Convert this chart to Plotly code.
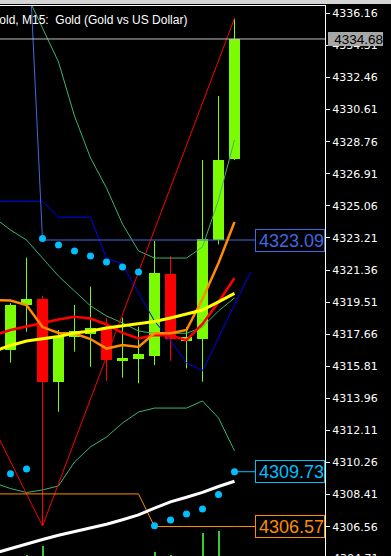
import plotly.graph_objects as go

# ---------------- data ----------------
candle_idx = list(range(15))
opens  = [4316.75, 4319.35, 4319.69, 4314.92, 4317.51, 4317.65, 4318.02, 4316.13, 4316.23, 4316.42, 4321.13, 4317.28, 4317.40, 4323.09, 4327.74]
highs  = [4319.45, 4322.07, 4319.86, 4317.90, 4319.35, 4320.40, 4318.61, 4318.61, 4318.09, 4323.03, 4322.17, 4318.06, 4327.70, 4331.39, 4335.87]
lows   = [4316.02, 4317.80, 4306.60, 4313.19, 4316.65, 4315.78, 4314.96, 4315.15, 4314.83, 4315.88, 4316.13, 4315.69, 4314.92, 4322.84, 4327.70]
closes = [4319.35, 4319.69, 4314.92, 4317.57, 4317.84, 4318.02, 4316.17, 4316.29, 4316.52, 4321.17, 4317.37, 4317.51, 4323.13, 4327.70, 4334.68]

ma_idx = list(range(-1, 15))
bb_upper  = [4341.00, 4339.23, 4337.27, 4335.26, 4333.35, 4330.24, 4327.82, 4326.09, 4324.01, 4322.46, 4322.05, 4322.05, 4322.05, 4322.69, 4325.40, 4328.86]
bb_middle = [4324.36, 4323.67, 4323.09, 4322.05, 4321.01, 4320.15, 4319.29, 4318.71, 4318.31, 4317.84, 4317.71, 4317.71, 4317.71, 4318.07, 4319.00, 4319.75]
bb_lower  = [4309.08, 4308.76, 4308.53, 4308.68, 4308.91, 4310.29, 4311.16, 4311.73, 4312.54, 4313.17, 4313.40, 4313.40, 4313.40, 4313.81, 4312.83, 4310.93]
ma_yellow = [4316.69, 4317.01, 4317.27, 4317.38, 4317.53, 4317.73, 4317.84, 4318.02, 4318.13, 4318.25, 4318.39, 4318.59, 4318.80, 4319.05, 4319.52, 4320.01]
ma_white  = [4305.03, 4305.30, 4305.58, 4305.82, 4306.07, 4306.28, 4306.49, 4306.70, 4306.96, 4307.24, 4307.63, 4307.99, 4308.26, 4308.54, 4308.88, 4309.18]
ma_orange = [4319.63, 4319.60, 4319.34, 4318.07, 4317.73, 4317.70, 4317.38, 4316.83, 4317.04, 4316.92, 4317.71, 4317.71, 4317.90, 4319.69, 4321.76, 4324.13]
ma_red    = [4317.61, 4317.90, 4318.10, 4318.31, 4318.51, 4318.67, 4318.56, 4318.22, 4317.73, 4317.41, 4317.61, 4317.58, 4317.32, 4318.25, 4319.52, 4320.90]

blue_idx = list(range(-1, 16))
blue_line = [4325.32, 4325.32, 4325.32, 4325.32, 4324.40, 4324.40, 4324.40, 4322.03, 4321.71, 4320.03, 4318.42, 4317.30, 4316.00, 4315.55, 4317.44, 4319.34, 4321.25]

psar = [4309.62, 4309.89, 4323.17, 4322.80, 4322.46, 4322.17, 4321.82, 4321.53, 4321.25, 4306.62, 4306.95, 4307.29, 4307.58, 4308.41, 4309.73]

zigzag_idx = [-1, 2, 14]
zigzag_val = [4312.17, 4306.60, 4335.87]

stop_up_idx = list(range(1, 15))
stop_up_val = [4342.67] + [4323.09] * 13
stop_dn_idx = list(range(-1, 15))
stop_dn_val = [4308.45] * 10 + [4306.57] * 6

hist_idx = [1, 2, 9, 10, 12, 13]
hist_val = [4304.93, 4305.45, 4305.10, 4304.93, 4306.20, 4306.31]
hist_base = 4304.0

current_price = 4334.68
tick_vals = [4336.16, 4334.31, 4332.46, 4330.61, 4328.76, 4326.91, 4325.06, 4323.21, 4321.36,
             4319.51, 4317.66, 4315.81, 4313.96, 4312.11, 4310.26, 4308.41, 4306.56]
hidden_tick = 4304.71
title_text = "Gold, M15:\u00a0 Gold (Gold vs US Dollar)"

# ---------------- layout constants (pixels) ----------------
W, H = 391, 556
PLOT_RIGHT = 325
PLOT_TOP = 6
X0_PX = 10.5
STEP_PX = 16
Y_TOP_VAL = 4336.581
Y_BOT_VAL = 4304.871
LABEL_LEFT_PX = 255

def px_to_k(px):
    return (px - X0_PX) / STEP_PX

LABEL_K = px_to_k(LABEL_LEFT_PX)

BULL = "#7CFC00"
BEAR = "#FF0000"

fig = go.Figure()

# bottom histogram bars
fig.add_trace(go.Bar(x=hist_idx, y=[v - hist_base for v in hist_val], base=hist_base,
                     width=2 / STEP_PX, marker=dict(color="#32CD32", line=dict(width=0)),
                     hoverinfo="skip"))

# candles
for is_bull, col in [(True, BULL), (False, BEAR)]:
    xs, bases, hs, wx, wy = [], [], [], [], []
    for k, o, h, l, c in zip(candle_idx, opens, highs, lows, closes):
        if (c >= o) != is_bull:
            continue
        xs.append(k)
        bases.append(min(o, c))
        hs.append(abs(c - o))
        wx += [k, k, None]
        wy += [l, h, None]
    fig.add_trace(go.Scatter(x=wx, y=wy, mode="lines", line=dict(color=col, width=1),
                             hoverinfo="skip"))
    fig.add_trace(go.Bar(x=xs, y=hs, base=bases, width=11 / STEP_PX,
                         marker=dict(color=col, line=dict(width=0)), hoverinfo="skip"))

def line(x, y, color, width):
    fig.add_trace(go.Scatter(x=x, y=y, mode="lines", line=dict(color=color, width=width),
                             hoverinfo="skip"))

line(ma_idx, bb_upper, "#3CB371", 1)
line(ma_idx, bb_middle, "#3CB371", 1)
line(ma_idx, bb_lower, "#3CB371", 1)
line(blue_idx, blue_line, "#0000FF", 1)
line(zigzag_idx, zigzag_val, "#FF0000", 1)
line(stop_up_idx, stop_up_val, "#4169E1", 1)
line(stop_dn_idx, stop_dn_val, "#FF8C00", 1)
line(ma_idx, ma_white, "#FFFFFF", 3)
line(ma_idx, ma_red, "#FF0000", 2.5)
line(ma_idx, ma_orange, "#FF8C00", 2.5)
line(ma_idx, ma_yellow, "#FFFF00", 3)

fig.add_trace(go.Scatter(x=candle_idx, y=psar, mode="markers",
                         marker=dict(color="#00BFFF", size=7, line=dict(width=0)),
                         hoverinfo="skip"))

shapes = [
    dict(type="rect", xref="paper", yref="paper", x0=0, x1=1, y0=1 - 4 / H, y1=1,
         fillcolor="#d4d4d4", line=dict(width=0), layer="above"),
    dict(type="line", xref="x domain", yref="y", x0=0, x1=1, y0=current_price, y1=current_price,
         line=dict(color="#C0C0C0", width=1)),
    dict(type="line", xref="x", yref="y", x0=stop_up_idx[-1], x1=LABEL_K,
         y0=stop_up_val[-1], y1=stop_up_val[-1], line=dict(color="#4169E1", width=1)),
    dict(type="line", xref="x", yref="y", x0=candle_idx[-1], x1=LABEL_K,
         y0=psar[-1], y1=psar[-1], line=dict(color="#00BFFF", width=1)),
    dict(type="line", xref="x", yref="y", x0=stop_dn_idx[-1], x1=LABEL_K,
         y0=stop_dn_val[-1], y1=stop_dn_val[-1], line=dict(color="#FF8C00", width=1)),
]

def val_to_paper(v):
    py = PLOT_TOP + (Y_TOP_VAL - v) / (Y_TOP_VAL - Y_BOT_VAL) * (H - PLOT_TOP)
    return 1 - py / H

annotations = []
for val, col in [(stop_up_val[-1], "#4169E1"), (psar[-1], "#00BFFF"), (stop_dn_val[-1], "#FF8C00")]:
    annotations.append(dict(xref="paper", yref="y", x=PLOT_RIGHT / W, y=val,
                            xanchor="right", yanchor="middle", text=f"{val:.2f}", showarrow=False,
                            font=dict(family="Liberation Sans", size=18, color=col),
                            bgcolor="black", bordercolor=col, borderwidth=1, borderpad=0,
                            width=68, height=21, align="right"))
annotations.append(dict(xref="paper", yref="paper", x=331 / W, y=val_to_paper(hidden_tick),
                        xanchor="left", yanchor="middle", text=f"{hidden_tick:.2f}", showarrow=False,
                        font=dict(family="DejaVu Sans", size=11, color="white")))
annotations.append(dict(xref="paper", yref="y", x=327.7 / W, y=current_price,
                        xanchor="left", yanchor="middle", text=f"{current_price:.2f}", showarrow=False,
                        font=dict(family="Liberation Sans", size=13.5, color="black"),
                        bgcolor="#a6a6a6", borderwidth=0, borderpad=0, width=55, height=14,
                        align="right"))
annotations.append(dict(xref="paper", yref="paper", x=-12 / W, y=1 - 20.5 / H,
                        xanchor="left", yanchor="middle", text=title_text, showarrow=False,
                        font=dict(family="Liberation Sans", size=12, color="white")))

fig.update_layout(
    width=W, height=H, margin=dict(l=0, r=0, t=0, b=0, pad=0),
    paper_bgcolor="black", plot_bgcolor="black",
    showlegend=False, barmode="overlay", bargap=0,
    shapes=shapes, annotations=annotations,
    xaxis=dict(range=[px_to_k(0), px_to_k(PLOT_RIGHT)], domain=[0, PLOT_RIGHT / W],
               side="top", showline=True, linecolor="white", linewidth=1,
               showgrid=False, zeroline=False, showticklabels=False, ticks=""),
    yaxis=dict(range=[Y_BOT_VAL, Y_TOP_VAL], domain=[0, 1 - PLOT_TOP / H],
               side="right", showline=True, linecolor="white", linewidth=1,
               ticks="outside", ticklen=4, tickwidth=1, tickcolor="white",
               tickvals=tick_vals, ticktext=[f"{v:.2f}" for v in tick_vals],
               tickfont=dict(family="DejaVu Sans", size=11, color="white"),
               showgrid=False, zeroline=False),
)

fig.write_html("out.html", config={"displayModeBar": False})
